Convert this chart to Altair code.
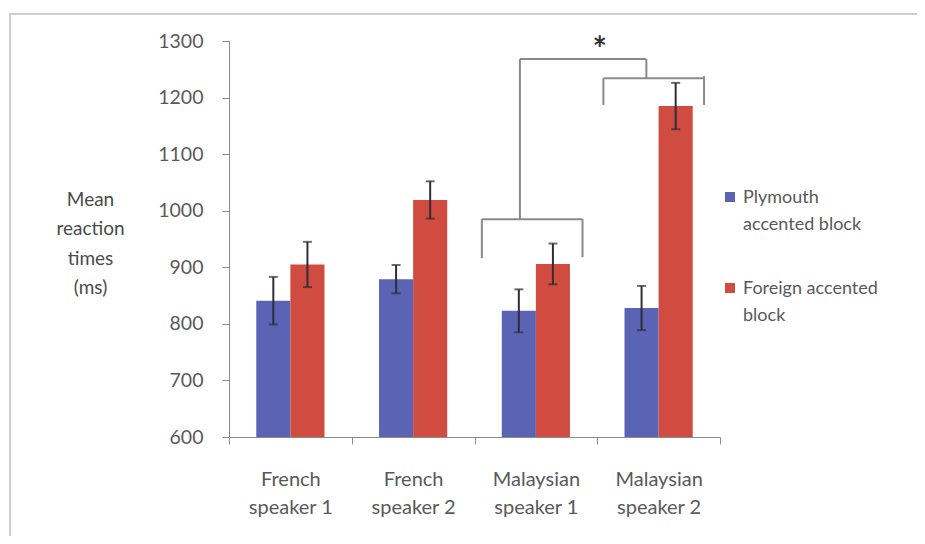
import altair as alt
import pandas as pd

categories = ["French|speaker 1", "French|speaker 2", "Malaysian|speaker 1", "Malaysian|speaker 2"]
series = ["Plymouth|accented block", "Foreign accented|block"]
plymouth = [841, 879, 823, 828]
foreign = [905, 1019, 906, 1185]
plymouth_err = [42, 25, 38, 39]
foreign_err = [40, 33, 36, 41]
colors = ["#5b63b5", "#d04c40"]

# significance bracket segments (x in category units 0..4, y in ms)
br_x = [2.06, 2.06, 2.88, 2.37, 2.37, 3.40, 3.05, 3.05, 3.87]
br_x2 = [2.88, 2.06, 2.88, 2.37, 3.40, 3.40, 3.87, 3.05, 3.87]
br_y = [985, 916, 918, 985, 1268, 1234, 1234, 1187, 1187]
br_y2 = [985, 985, 985, 1268, 1268, 1268, 1234, 1234, 1238]
star_x = [3.02]
star_y = [1301]

rows = []
for i, c in enumerate(categories):
    rows.append({"cat": c, "series": series[0], "v": plymouth[i], "lo": plymouth[i] - plymouth_err[i], "hi": plymouth[i] + plymouth_err[i]})
    rows.append({"cat": c, "series": series[1], "v": foreign[i], "lo": foreign[i] - foreign_err[i], "hi": foreign[i] + foreign_err[i]})
df = pd.DataFrame(rows)
br = pd.DataFrame({"x": br_x, "x2": br_x2, "y": br_y, "y2": br_y2})
st = pd.DataFrame({"x": star_x, "y": star_y, "t": ["*"]})
leg = pd.DataFrame({"series": series})

FONT = "Lato"
yscale = alt.Scale(domain=[600, 1300], zero=False, nice=False)
cscale = alt.Scale(domain=series, range=colors)
xenc = alt.X("cat:N", sort=categories, title=None,
             scale=alt.Scale(paddingInner=0, paddingOuter=0),
             axis=alt.Axis(labelExpr="split(datum.label, '|')", labelAngle=0,
                           tickBand="extent", tickSize=7, labelPadding=25,
                           labelLineHeight=28, labelFontSize=20, labelColor="#595959",
                           domainColor="#8c8c8c", tickColor="#8c8c8c", labelFont=FONT,
                           labelBaseline="top"))
xoff = alt.XOffset("series:N", sort=series, scale=alt.Scale(paddingOuter=0.8, paddingInner=0))

base = alt.Chart(df)
bars = base.mark_bar().encode(
    x=xenc, xOffset=xoff,
    y=alt.Y("v:Q", scale=yscale,
            axis=alt.Axis(values=[600, 700, 800, 900, 1000, 1100, 1200, 1300], grid=False,
                          format="d",
                          tickSize=7, labelPadding=19, labelFontSize=19.5, labelColor="#595959",
                          labelFont=FONT, domainColor="#8c8c8c", tickColor="#8c8c8c",
                          title=["Mean", "reaction", "times", "(ms)"], titleAngle=0,
                          titleAlign="center", titleBaseline="middle", titleX=-139, titleY=158,
                          titleFontSize=19, titleFontWeight="normal", titleColor="#4a4a4a",
                          titleFont=FONT, titleLineHeight=29.5)),
    y2=alt.Y2(datum=600),
    color=alt.Color("series:N", sort=series, scale=cscale, legend=None)
)
err = base.mark_rule(color="#2e2e38", strokeWidth=2).encode(
    x=alt.X("cat:N", sort=categories), xOffset=xoff,
    y=alt.Y("lo:Q", scale=yscale), y2="hi:Q")
cap_lo = base.mark_tick(color="#2e2e38", thickness=2, size=9).encode(
    x=alt.X("cat:N", sort=categories), xOffset=xoff, y=alt.Y("lo:Q", scale=yscale))
cap_hi = base.mark_tick(color="#2e2e38", thickness=2, size=9).encode(
    x=alt.X("cat:N", sort=categories), xOffset=xoff, y=alt.Y("hi:Q", scale=yscale))

main = alt.layer(bars, err, cap_lo, cap_hi)

xq = alt.X("x:Q", scale=alt.Scale(domain=[0, 4]), axis=None)
yq = alt.Y("y:Q", scale=yscale, axis=None)
brackets = alt.Chart(br).mark_rule(color="#8a8a8a", strokeWidth=2).encode(
    x=xq, x2="x2:Q", y=yq, y2="y2:Q")
star = alt.Chart(st).mark_text(fontSize=34, fontWeight="bold", color="#333333",
                               baseline="middle", dy=11, font=FONT).encode(
    x=xq, y=yq, text="t:N")
annot = alt.layer(brackets, star)

# legend (symbols + two-line labels), placed through a point scale
ly = alt.Y("series:N", sort=series, axis=None,
           scale=alt.Scale(type="point", domain=series, range=[156, 247], padding=0))
leg_sym = alt.Chart(leg).mark_square(size=100, opacity=1).encode(
    x=alt.value(501), y=ly,
    color=alt.Color("series:N", sort=series, scale=cscale, legend=None))
leg_txt = alt.Chart(leg).transform_calculate(lines="split(datum.series, '|')").mark_text(
    align="left", baseline="middle", dy=1, fontSize=18, lineHeight=27,
    color="#595959", font=FONT).encode(
    x=alt.value(514), y=ly, text="lines:N")
legend = alt.layer(leg_sym, leg_txt)

border = alt.Chart(alt.Data(values=[{}])).mark_rect(fill=None, stroke="#cfcfcf", strokeWidth=2).encode(
    x=alt.value(-219), x2=alt.value(720), y=alt.value(-27), y2=alt.value(520))

chart = alt.layer(border, main, annot, legend).resolve_scale(
    x="independent", y="independent").properties(
    width=491, height=396,
    autosize=alt.AutoSizeParams(type="none"),
    padding={"left": 221, "top": 33, "right": 197, "bottom": 99},
).configure_view(stroke=None)

chart.save("out.html", embed_options={"renderer": "svg", "actions": False})
